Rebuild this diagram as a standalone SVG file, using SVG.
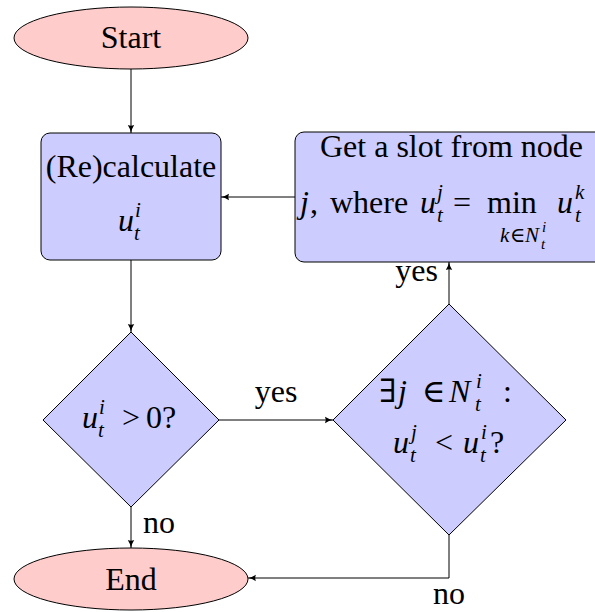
<svg xmlns="http://www.w3.org/2000/svg" width="595" height="612" viewBox="0 0 595 612">
<style>
text{font-family:"Liberation Serif","DejaVu Serif",serif;font-size:32px;fill:#000}
.m{font-style:italic}
.s{font-size:21px}
.ss{font-size:15px}
.term{fill:#ffcccc;stroke:#000;stroke-width:1}
.box{fill:#ccccff;stroke:#000;stroke-width:1}
.c{fill:none;stroke:#000;stroke-width:1;marker-end:url(#ah)}
</style>
<defs>
<marker id="ah" viewBox="0 0 8 8" refX="8" refY="4" markerWidth="8" markerHeight="8" markerUnits="userSpaceOnUse" orient="auto">
<path d="M0,0.8 Q4,3.4 8,4 Q4,4.6 0,7.2 Q1.6,4 0,0.8 Z" fill="#000"/>
</marker>
</defs>
<g id="start">
<ellipse class="term" cx="131" cy="38" rx="117" ry="31"/>
<text x="131" y="48" text-anchor="middle">Start</text>
</g>
<g id="recalc">
<rect class="box" x="41" y="133" width="180" height="127" rx="9"/>
<text x="131" y="177" text-anchor="middle">(Re)calculate</text>
<text><tspan class="m" x="118" y="231">u</tspan><tspan class="m s" x="135" y="217">i</tspan><tspan class="m s" x="134" y="240">t</tspan></text>
</g>
<g id="getslot">
<rect class="box" x="295" y="132" width="320" height="130" rx="9"/>
<text x="451.5" y="157" text-anchor="middle">Get a slot from node</text>
<text><tspan class="m" x="300" y="213">j</tspan><tspan x="310" y="213">,</tspan><tspan x="330" y="213">where</tspan><tspan class="m" x="420" y="213">u</tspan><tspan class="m s" x="437" y="199">j</tspan><tspan class="m s" x="437" y="222">t</tspan><tspan x="453" y="213">=</tspan><tspan x="487" y="213">min</tspan><tspan class="m" x="557" y="213">u</tspan><tspan class="m s" x="575" y="199">k</tspan><tspan class="m s" x="575" y="222">t</tspan></text>
<text><tspan class="m s" x="500" y="242">k</tspan><tspan class="s" x="510" y="242">∈</tspan><tspan class="m s" x="525" y="242">N</tspan><tspan class="m ss" x="542" y="232">i</tspan><tspan class="m ss" x="541" y="249">t</tspan></text>
</g>
<g id="check">
<polygon class="box" points="131,332 219,420 131,507 43,420"/>
<text><tspan class="m" x="82" y="428">u</tspan><tspan class="m s" x="99" y="414">i</tspan><tspan class="m s" x="98" y="437">t</tspan><tspan x="122" y="428">&gt;</tspan><tspan x="146" y="428">0?</tspan></text>
</g>
<g id="exists">
<polygon class="box" points="449,304 566,420 449,535 333,420"/>
<text><tspan x="379" y="402">∃</tspan><tspan class="m" x="398" y="402">j</tspan><tspan x="422" y="402">∈</tspan><tspan class="m" x="449" y="402">N</tspan><tspan class="m s" x="476" y="388">i</tspan><tspan class="m s" x="475" y="411">t</tspan><tspan x="503" y="402">:</tspan></text>
<text><tspan class="m" x="393" y="453">u</tspan><tspan class="m s" x="411" y="439">j</tspan><tspan class="m s" x="410" y="462">t</tspan><tspan x="435" y="453">&lt;</tspan><tspan class="m" x="463" y="453">u</tspan><tspan class="m s" x="481" y="439">i</tspan><tspan class="m s" x="480" y="462">t</tspan><tspan x="490" y="453">?</tspan></text>
</g>
<g id="end">
<ellipse class="term" cx="131" cy="579" rx="117" ry="31"/>
<text x="131" y="590" text-anchor="middle">End</text>
</g>
<g id="connectors">
<path class="c" d="M131,69 L131,133"/>
<path class="c" d="M131,260 L131,332"/>
<path class="c" d="M219,420 L333,420"/>
<path class="c" d="M449,304 L449,262"/>
<path class="c" d="M295,197 L221,197"/>
<path class="c" d="M131,507 L131,548"/>
<path class="c" d="M449,535 L449,578 L248,578"/>
<text x="276" y="402" text-anchor="middle">yes</text>
<text x="438" y="281" text-anchor="end">yes</text>
<text x="143" y="533">no</text>
<text x="449" y="604" text-anchor="middle">no</text>
</g>
</svg>
